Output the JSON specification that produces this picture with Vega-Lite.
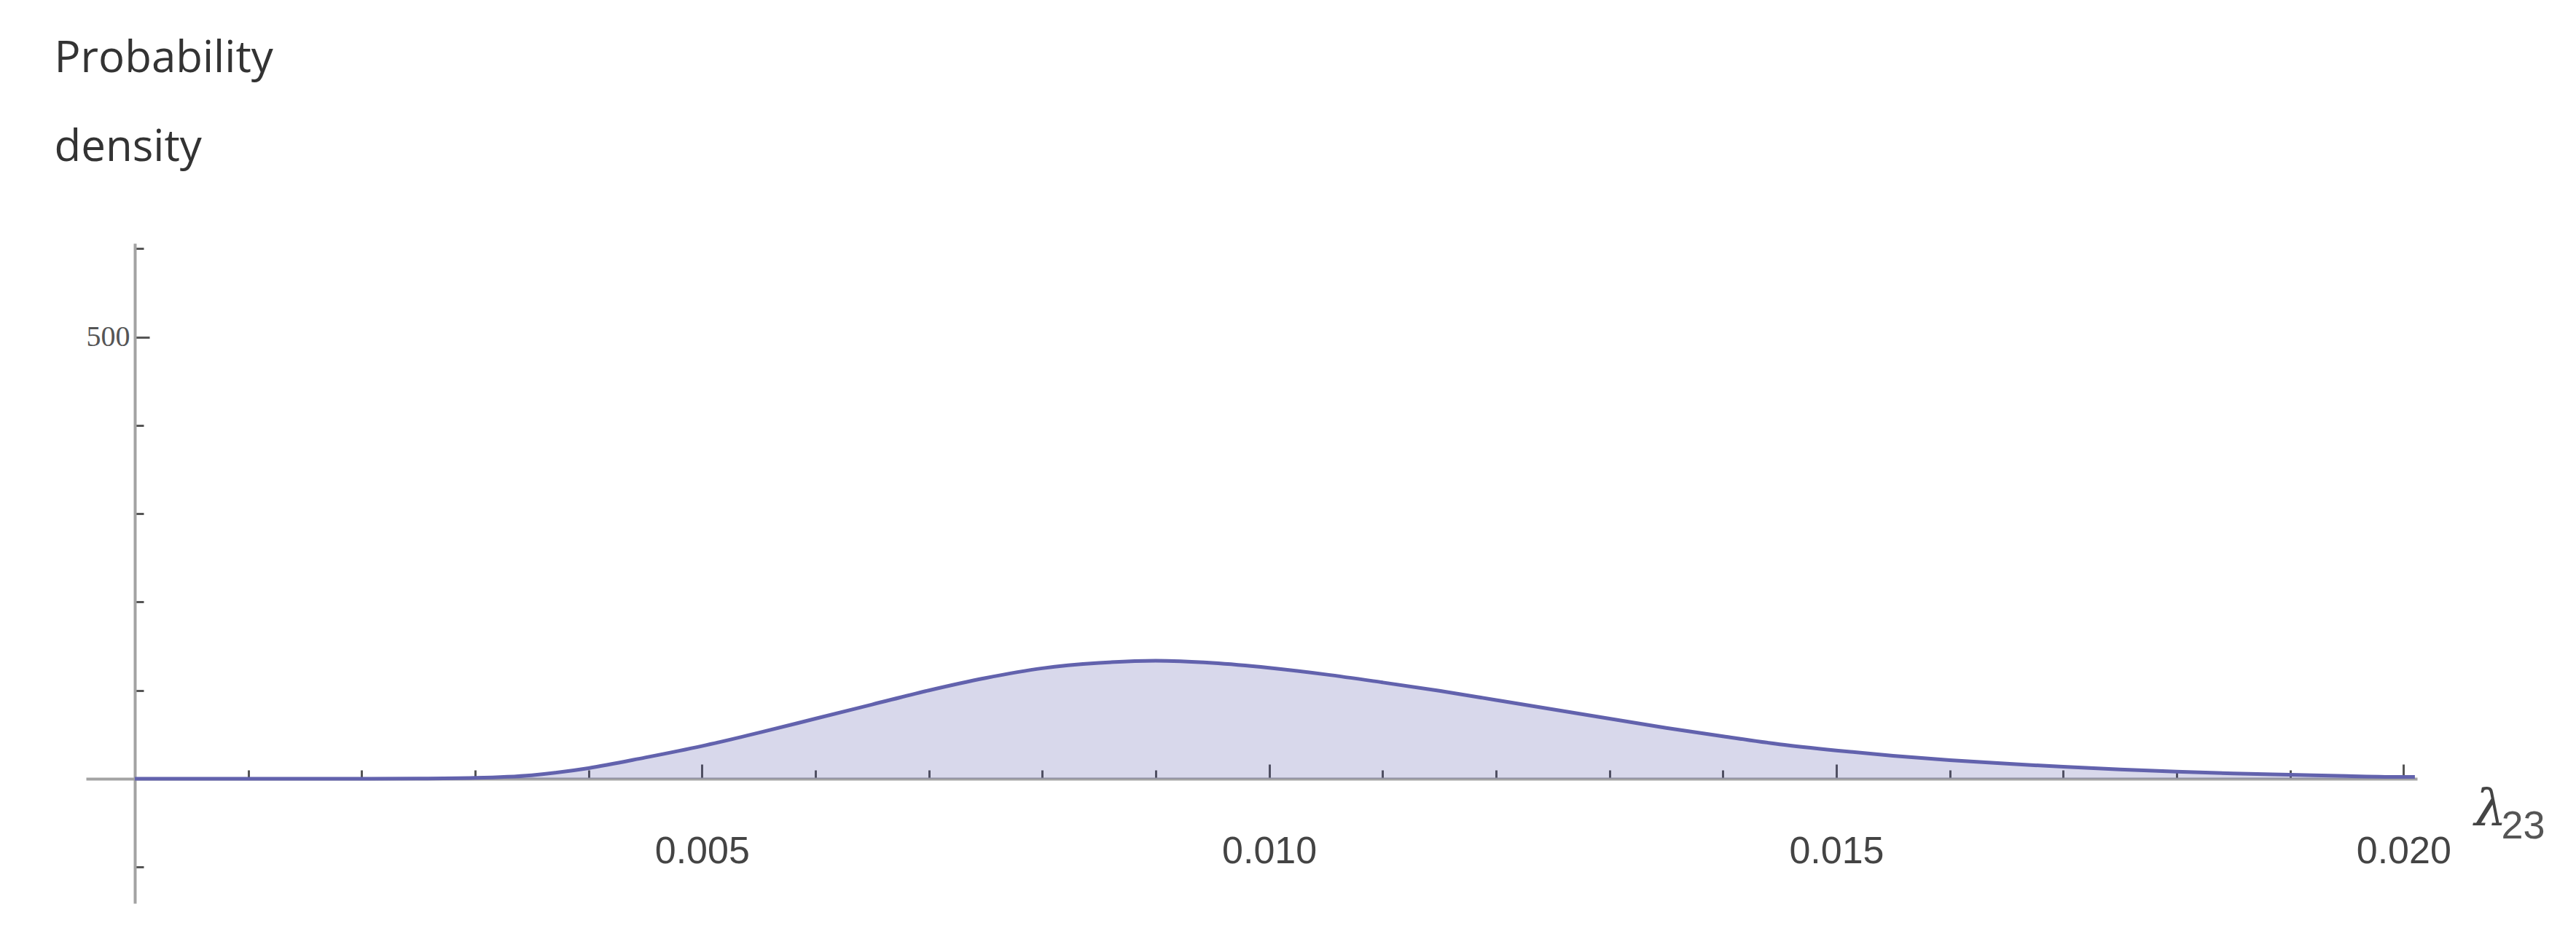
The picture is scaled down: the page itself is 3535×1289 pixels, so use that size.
{
  "$schema": "https://vega.github.io/schema/vega-lite/v6.json",
  "autosize": "none",
  "width": 3199,
  "height": 906,
  "padding": {"left": 118, "top": 334, "right": 218, "bottom": 49},
  "background": "white",
  "config": {"view": {"stroke": null}},
  "data": {"values": [
    {"x": 0, "y": 0},
    {"x": 0.001, "y": 0},
    {"x": 0.002, "y": 0},
    {"x": 0.0025, "y": 0.2},
    {"x": 0.003, "y": 1},
    {"x": 0.0035, "y": 4},
    {"x": 0.004, "y": 12},
    {"x": 0.0045, "y": 24},
    {"x": 0.005, "y": 37},
    {"x": 0.0055, "y": 52},
    {"x": 0.006, "y": 68},
    {"x": 0.0065, "y": 84},
    {"x": 0.007, "y": 100},
    {"x": 0.0075, "y": 114},
    {"x": 0.008, "y": 125},
    {"x": 0.0085, "y": 131},
    {"x": 0.009, "y": 133.5},
    {"x": 0.0095, "y": 131},
    {"x": 0.01, "y": 125.5},
    {"x": 0.0105, "y": 118},
    {"x": 0.011, "y": 109},
    {"x": 0.0115, "y": 99.5},
    {"x": 0.012, "y": 89},
    {"x": 0.0125, "y": 78.5},
    {"x": 0.013, "y": 68},
    {"x": 0.0135, "y": 57.5},
    {"x": 0.014, "y": 48},
    {"x": 0.0145, "y": 39},
    {"x": 0.015, "y": 32},
    {"x": 0.0155, "y": 26},
    {"x": 0.016, "y": 21},
    {"x": 0.0165, "y": 17},
    {"x": 0.017, "y": 13.5},
    {"x": 0.0175, "y": 10.5},
    {"x": 0.018, "y": 8},
    {"x": 0.0185, "y": 6},
    {"x": 0.019, "y": 4.5},
    {"x": 0.0195, "y": 3},
    {"x": 0.02, "y": 2},
    {"x": 0.0201, "y": 2}
  ]},
  "resolve": {"scale": {"x": "independent"}, "axis": {"x": "independent"}},
  "layer": [
    {
      "mark": {
        "type": "area",
        "interpolate": "monotone",
        "fill": "#3d3d99",
        "fillOpacity": 0.2,
        "line": {"color": "#6262ad", "strokeWidth": 5}
      },
      "encoding": {
        "x": {
          "field": "x", "type": "quantitative",
          "scale": {"domain": [-0.00043, 0.02012], "nice": false, "zero": false},
          "axis": {
            "orient": "bottom",
            "offset": -171,
            "values": [0.001,0.002,0.003,0.004,0.005,0.006,0.007,0.008,0.009,0.01,0.011,0.012,0.013,0.014,0.015,0.016,0.017,0.018,0.019,0.02],
            "labelExpr": "(round(datum.value*1000) % 5 == 0) ? format(datum.value, '.3f') : ''",
            "labelFont": "Liberation Sans",
            "labelFontSize": 52,
            "labelColor": "#444444",
            "labelPadding": 94,
            "labelFlush": false,
            "labelOverlap": false,
            "grid": false,
            "domainColor": "#a3a3a3",
            "domainWidth": 4,
            "tickColor": "#555555",
            "tickWidth": 3,
            "tickSize": {"condition": {"test": "round(datum.value*1000) % 5 == 0", "value": -20}, "value": -12},
            "title": "λ",
            "titleFont": "DejaVu Serif",
            "titleFontStyle": "italic",
            "titleFontWeight": "normal",
            "titleFontSize": 70,
            "titleColor": "#444444",
            "titleAlign": "left",
            "titleBaseline": "alphabetic",
            "titleX": 3277,
            "titleY": 63
          }
        },
        "y": {
          "field": "y", "type": "quantitative",
          "scale": {"domain": [-141, 606], "nice": false, "zero": false},
          "axis": {
            "orient": "left",
            "offset": -67,
            "values": [-100, 100, 200, 300, 400, 500, 600],
            "labelExpr": "datum.value == 500 ? '500' : ''",
            "labelFont": "Liberation Serif",
            "labelFontSize": 40,
            "labelColor": "#555555",
            "labelPadding": 27,
            "labelOverlap": false,
            "grid": false,
            "domainColor": "#a3a3a3",
            "domainWidth": 4,
            "tickColor": "#555555",
            "tickWidth": 3,
            "tickSize": {"condition": {"test": "datum.value == 500", "value": -20}, "value": -12},
            "title": ["Probability", "density"],
            "titleFont": "Open Sans",
            "titleFontSize": 60,
            "titleFontWeight": "normal",
            "titleColor": "#333333",
            "titleAngle": 0,
            "titleAlign": "left",
            "titleBaseline": "alphabetic",
            "titleLineHeight": 122,
            "titleX": -111,
            "titleY": -236
          }
        }
      }
    },
    {
      "mark": {"type": "line", "strokeOpacity": 0},
      "encoding": {
        "x": {
          "field": "x", "type": "quantitative",
          "scale": {"domain": [-0.00043, 0.02012], "nice": false, "zero": false},
          "axis": {
            "orient": "bottom",
            "offset": -171,
            "domain": false,
            "ticks": false,
            "labels": false,
            "grid": false,
            "title": "23",
            "titleFont": "Liberation Sans",
            "titleFontSize": 54,
            "titleFontWeight": "normal",
            "titleColor": "#555555",
            "titleAlign": "left",
            "titleBaseline": "alphabetic",
            "titleX": 3314,
            "titleY": 81
          }
        },
        "y": {"field": "y", "type": "quantitative"}
      }
    }
  ]
}
